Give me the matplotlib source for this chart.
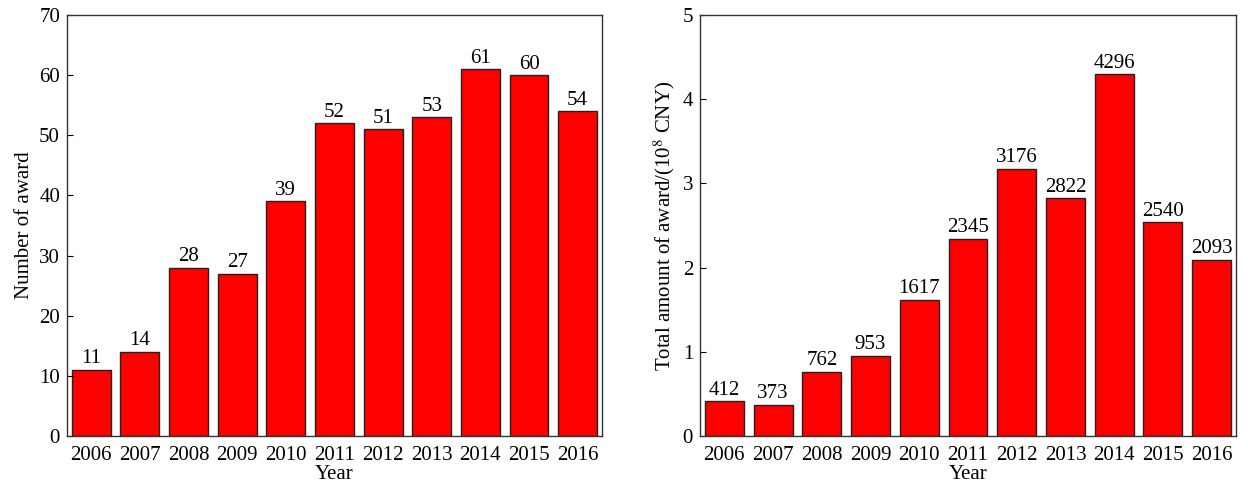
import matplotlib
matplotlib.use("Agg")
import matplotlib.pyplot as plt

years = ["2006", "2007", "2008", "2009", "2010", "2011", "2012", "2013", "2014", "2015", "2016"]
award_count = [11, 14, 28, 27, 39, 52, 51, 53, 61, 60, 54]
award_amount = [412, 373, 762, 953, 1617, 2345, 3176, 2822, 4296, 2540, 2093]  # 10^4 CNY

plt.rcParams["font.family"] = ["Liberation Serif", "DejaVu Serif"]
plt.rcParams["mathtext.fontset"] = "stix"
fs = 15

fig = plt.figure(figsize=(12.48, 4.92), dpi=100)
ax1 = fig.add_axes([67 / 1248, 56 / 492, 535 / 1248, 421 / 492])
ax2 = fig.add_axes([700 / 1248, 56 / 492, 536 / 1248, 421 / 492])

x = range(len(years))


def draw(ax, heights, labels, ymax, ylabel):
    bars = ax.bar(x, heights, width=0.8, color="#ff0000", edgecolor="#222222", linewidth=1.0)
    for b, lab in zip(bars, labels):
        ax.annotate(str(lab), (b.get_x() + b.get_width() / 2, b.get_height()),
                    xytext=(0, 1), textcoords="offset points",
                    ha="center", va="bottom", fontsize=fs)
    ax.set_xlim(-0.5, len(years) - 0.5)
    ax.set_ylim(0, ymax)
    ax.set_xticks(list(x))
    ax.set_xticklabels(years, fontsize=fs)
    ax.tick_params(axis="x", length=0, pad=7)
    ax.tick_params(axis="y", direction="in", length=4, labelsize=fs, right=False, pad=5)
    ax.set_xlabel("Year", fontsize=fs, labelpad=0)
    ax.set_ylabel(ylabel, fontsize=fs)
    for s in ax.spines.values():
        s.set_linewidth(1.0)
        s.set_color("#333333")


draw(ax1, award_count, award_count, 70, "Number of award")
ax1.set_yticks(range(0, 71, 10))
draw(ax2, [v / 1000 for v in award_amount], award_amount, 5,
     "Total amount of award/(10$^{8}$ CNY)")
ax2.set_yticks(range(0, 6))

fig.savefig("out.png", dpi=100)
